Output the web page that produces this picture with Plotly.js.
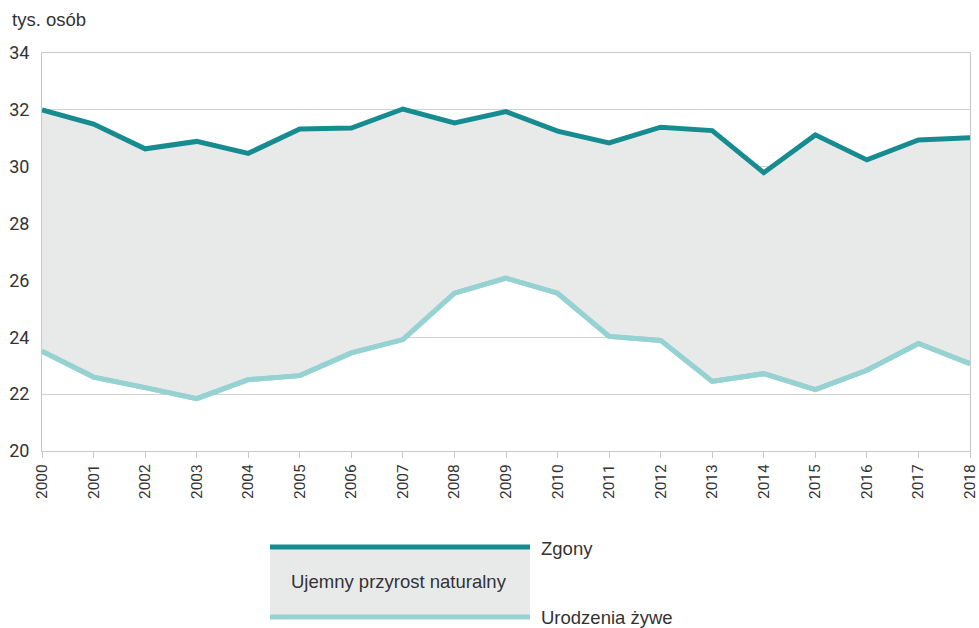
<!DOCTYPE html>
<html>
<head>
<meta charset="utf-8">
<script src="https://cdn.plot.ly/plotly-3.0.1.min.js"></script>
<style>html,body{margin:0;padding:0;background:#fff;}#chart{width:979px;height:628px;}</style>
</head>
<body>
<div id="chart"></div>
<script>
const years = [2000,2001,2002,2003,2004,2005,2006,2007,2008,2009,2010,2011,2012,2013,2014,2015,2016,2017,2018];
const zgony = [32.0,31.5,30.63,30.89,30.47,31.33,31.36,32.03,31.54,31.94,31.25,30.84,31.39,31.27,29.79,31.12,30.24,30.94,31.02];
const urodzenia = [23.51,22.6,22.23,21.84,22.51,22.65,23.45,23.92,25.55,26.08,25.55,24.03,23.89,22.45,22.72,22.16,22.84,23.78,23.07];
const yTicks = [20,22,24,26,28,30,32,34];
const labelZgony = "Zgony";
const labelUrodzenia = "Urodzenia żywe";
const labelFill = "Ujemny przyrost naturalny";
const unitLabel = "tys. osób";

const dark = "#178c90";
const light = "#96d2d2";
const fillCol = "#e8eaea";

const traces = [
  {x: years, y: urodzenia, type: "scatter", mode: "lines", line: {color: light, width: 5}, hoverinfo: "skip"},
  {x: years, y: zgony, type: "scatter", mode: "lines", fill: "tonexty", fillcolor: fillCol, line: {color: dark, width: 5}, hoverinfo: "skip"},
  {x: years, y: urodzenia, type: "scatter", mode: "lines", line: {color: light, width: 5}, hoverinfo: "skip"}
];

const L = 42, R = 970, T = 53, B = 451;
const px = v => (v - L) / (R - L);
const py = v => (B - v) / (B - T);
const txtFont = {family: "'Liberation Sans', Arial, sans-serif", size: 18.5, color: "#333"};

const layout = {
  width: 979, height: 628,
  margin: {l: L, r: 979 - R, t: T, b: 628 - B},
  paper_bgcolor: "#fff", plot_bgcolor: "#fff",
  showlegend: false,
  font: {family: "Roboto, 'DejaVu Sans', sans-serif", color: "#333", size: 16},
  xaxis: {
    range: [2000, 2018], tickmode: "array", tickvals: years, ticktext: years.map(String),
    tickangle: -90, ticks: "outside", ticklen: 6, tickcolor: "#c8c8c8",
    showline: true, linecolor: "#c8c8c8", linewidth: 1, mirror: true,
    showgrid: false, zeroline: false, tickfont: {size: 15.5, color: "#333"},
    ticklabeloverflow: "allow", fixedrange: true
  },
  yaxis: {
    range: [20, 34], tickmode: "array", tickvals: yTicks, ticks: "",
    showline: true, linecolor: "#c8c8c8", linewidth: 1, mirror: true,
    showgrid: true, gridcolor: "#d0d0d0", gridwidth: 1, zeroline: false,
    tickfont: {size: 18, color: "#333"}, ticklabelstandoff: 8,
    ticklabeloverflow: "allow", fixedrange: true
  },
  shapes: [
    {type: "rect", xref: "paper", yref: "paper", x0: px(270), x1: px(530), y0: py(547), y1: py(617), fillcolor: fillCol, line: {width: 0}},
    {type: "line", xref: "paper", yref: "paper", x0: px(270), x1: px(530), y0: py(547), y1: py(547), line: {color: dark, width: 5}},
    {type: "line", xref: "paper", yref: "paper", x0: px(270), x1: px(530), y0: py(617), y1: py(617), line: {color: light, width: 5}}
  ],
  annotations: [
    {text: unitLabel, xref: "paper", yref: "paper", x: px(10), y: py(20), xanchor: "left", yanchor: "middle", showarrow: false, font: txtFont},
    {text: labelZgony, xref: "paper", yref: "paper", x: px(539), y: py(548), xanchor: "left", yanchor: "middle", showarrow: false, font: txtFont},
    {text: labelFill, xref: "paper", yref: "paper", x: px(399), y: py(581), xanchor: "center", yanchor: "middle", showarrow: false, font: txtFont},
    {text: labelUrodzenia, xref: "paper", yref: "paper", x: px(539), y: py(617), xanchor: "left", yanchor: "middle", showarrow: false, font: txtFont}
  ]
};

Plotly.newPlot("chart", traces, layout, {displayModeBar: false, staticPlot: true});
</script>
</body>
</html>
